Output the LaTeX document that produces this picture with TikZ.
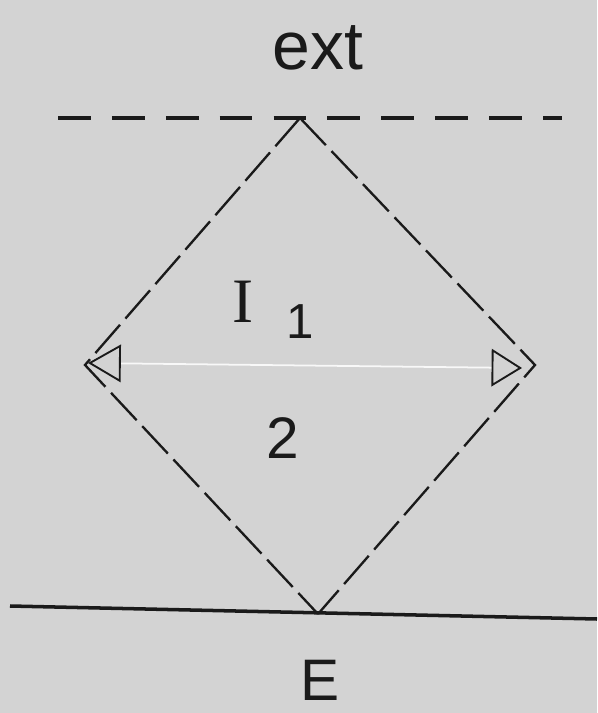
\documentclass[tikz,border=0pt]{standalone}
\usepackage{fontspec}
\setmainfont{Liberation Sans}
\newfontfamily\seriffont{Liberation Serif}
\usetikzlibrary{arrows.meta, positioning}
\definecolor{paper}{HTML}{D3D3D3}
\definecolor{ink}{HTML}{1A1A1A}

\begin{document}
\begin{tikzpicture}[
    x=0.03cm, y=-0.03cm,
    boundary/.style={draw=ink, line width=3.4pt, dash pattern=on 28pt off 18pt},
    wall/.style={draw=ink, line width=2pt, dash pattern=on 32pt off 7pt},
    ground/.style={draw=ink, line width=3pt},
    span/.style={draw=white!85!paper, line width=1.5pt,
                 {Triangle[open, color=ink, line width=1.6pt, length=28pt, width=32pt]}-{Triangle[open, color=ink, line width=1.6pt, length=26pt, width=32pt]}},
    region/.style={text=ink, inner sep=0pt, font=\fontsize{#1}{#1}\selectfont},
]
    % Background
    \fill[paper] (0,0) rectangle (597,713);
    \useasboundingbox (0,0) rectangle (597,713);

    % Corners of the diamond
    \coordinate (apex) at (300,118);
    \coordinate (west) at (85,365);
    \coordinate (east) at (535,365);
    \coordinate (foot) at (318,614);

    % Outer lines
    \coordinate (extL) at (58,118);
    \coordinate (extR) at (562,118);
    \coordinate (gndL) at (10,606);
    \coordinate (gndR) at (597,619);
    \draw[boundary] (extL) -- (extR);
    \draw[ground] (gndL) -- (gndR);

    % Diamond
    \draw[wall] (apex) -- (west) -- (foot);
    \draw[wall] (apex) -- (east) -- (foot);

    % Span between the side corners
    \coordinate (spanL) at (88,363);
    \coordinate (spanR) at (522,368);
    \draw[span] (spanL) -- (spanR);

    % Labels
    \node[region=58] (ext) at (318,48) {ext};
    \node[region=54, font=\seriffont\fontsize{54}{54}\selectfont] (I) at (243,302) {I};
    \node[region=42] (one) at (300,322) {1};
    \node[region=50] (two) at (283,438) {2};
    \node[region=50] (E) at (320,680) {E};
\end{tikzpicture}
\end{document}
